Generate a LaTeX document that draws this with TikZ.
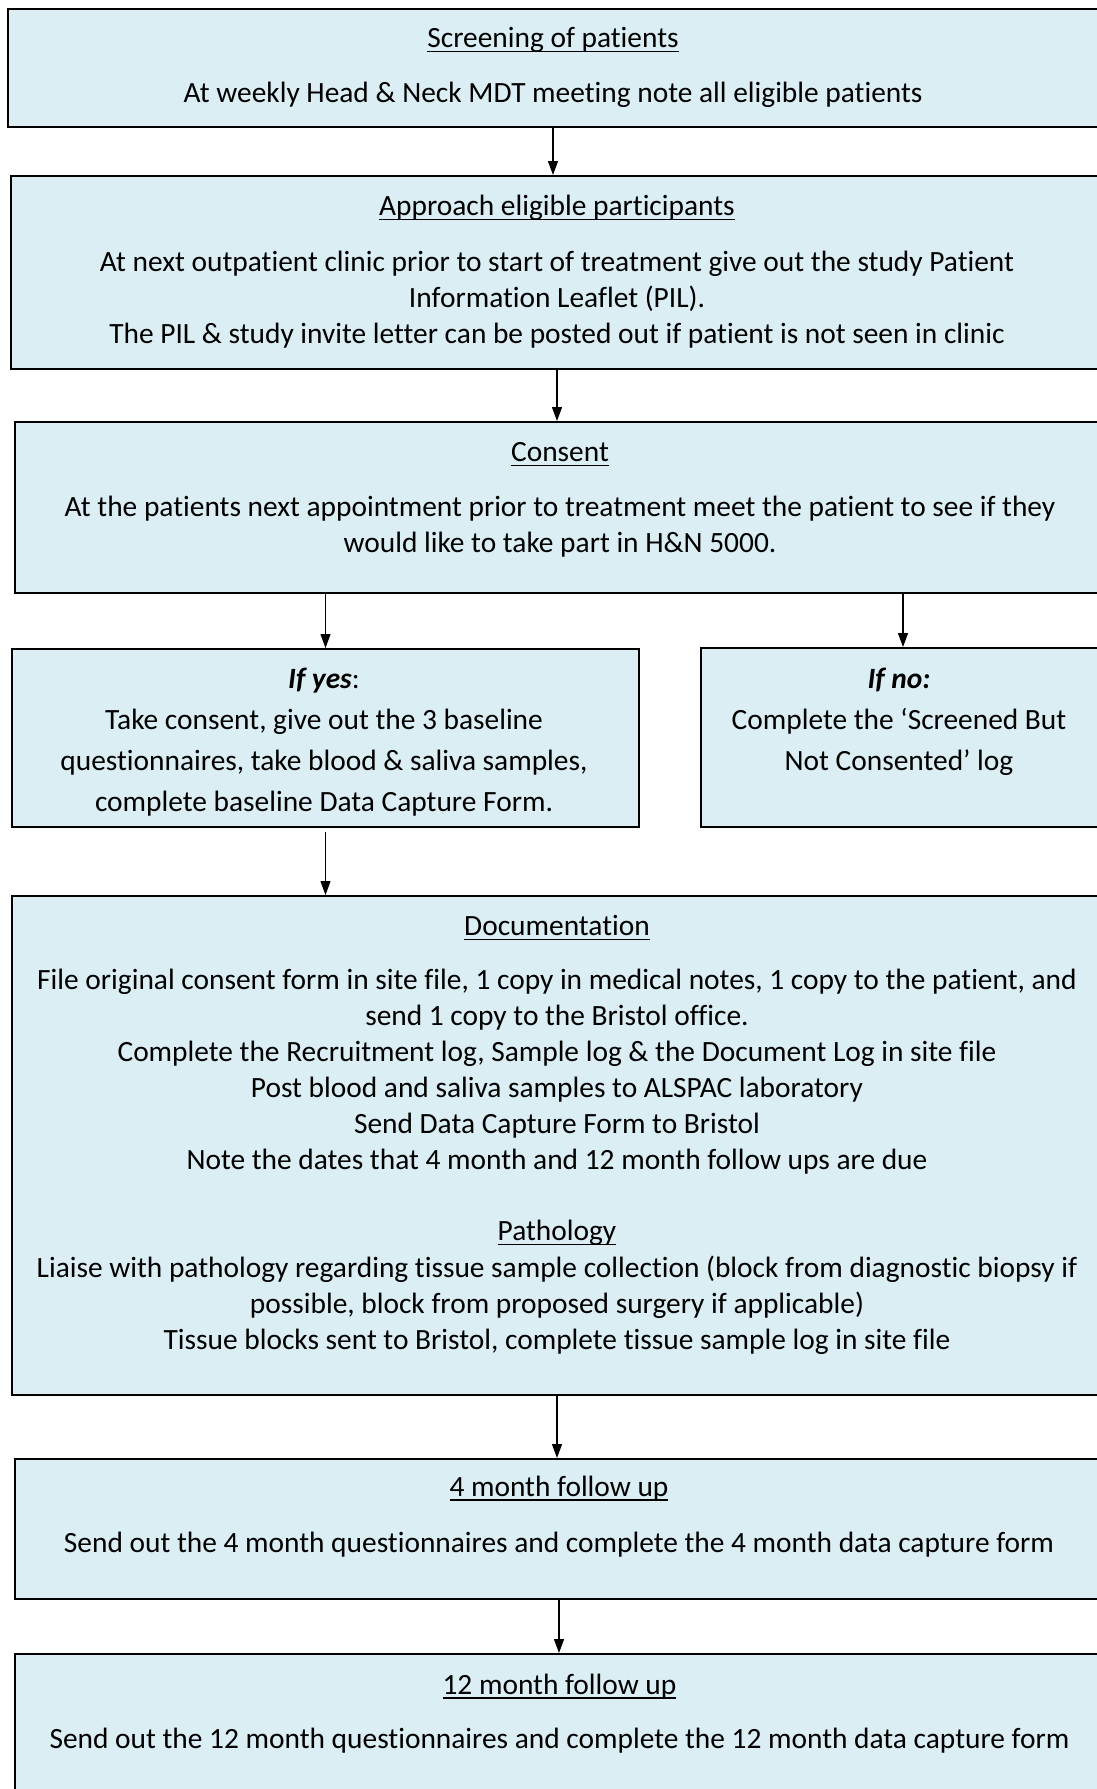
\documentclass[tikz,border=0pt]{standalone}
\usepackage{fontspec}
\setmainfont[Ligatures=NoCommon]{Carlito}
\usetikzlibrary{arrows.meta}
\definecolor{boxblue}{RGB}{218,238,243}
\newcommand\ulin[1]{\setbox0\hbox{#1}\rlap{\rule[-2.2pt]{\wd0}{0.6pt}}\box0}
\begin{document}
\begin{tikzpicture}[x=0.5pt,y=-0.5pt,
  box/.style={draw=black, line width=1pt, fill=boxblue, rectangle, inner sep=0pt, anchor=north west},
  txt/.style={align=center, font=\fontsize{14.7}{18}\selectfont, inner sep=0pt, yshift=-1.2pt},
  wtxt/.style={align=center, font=\fontsize{14.7}{20.5}\selectfont, inner sep=0pt, yshift=-1.2pt},
  arr/.style={-{Triangle[length=7pt,width=5pt]}, line width=0.6pt}]
\useasboundingbox (0,0) rectangle (1097,1789);
\clip (0,0) rectangle (1097,1789);
% boxes
\node[box, minimum width=549pt, minimum height=59pt] (b1) at (7,8) {};
\node[box, minimum width=547.5pt, minimum height=96.5pt] (b2) at (10,175) {};
\node[box, minimum width=546pt, minimum height=85.5pt] (b3) at (14,421) {};
\node[box, minimum width=313.5pt, minimum height=89pt] (yes) at (11,648) {};
\node[box, minimum width=202pt, minimum height=89.5pt] (no) at (700,647) {};
\node[box, minimum width=547pt, minimum height=249.5pt] (doc) at (11,895) {};
\node[box, minimum width=545.5pt, minimum height=70pt] (b4) at (14,1458) {};
\node[box, minimum width=545.5pt, minimum height=90pt] (b12) at (14,1653) {};
% texts
\node[txt] (t1h) at (553,38) {\ulin{Screening of patients}};
\node[txt] (t1b) at (553,92.5) {At weekly Head \& Neck MDT meeting note all eligible patients};
\node[txt] (t2h) at (557,205.5) {\ulin{Approach eligible participants}};
\node[txt] (t2b) at (557,297) {At next outpatient clinic prior to start of treatment give out the study Patient\\Information Leaflet (PIL).\\The PIL \& study invite letter can be posted out if patient is not seen in clinic};
\node[txt] (t3h) at (560,452) {\ulin{Consent}};
\node[txt] (t3b) at (560,524.5) {At the patients next appointment prior to treatment meet the patient to see if they\\would like to take part in H\&N 5000.};
\node[wtxt] (tyes) at (324,739.5) {\textbf{\textit{If yes}}:\\Take consent, give out the 3 baseline\\questionnaires, take blood \& saliva samples,\\complete baseline Data Capture Form.};
\node[wtxt] (tno) at (899,719) {\textbf{\textit{If no:}}\\Complete the ‘Screened But\\Not Consented’ log};
\node[txt] (tdh) at (557,925) {\ulin{Documentation}};
\node[txt] (tdb) at (557,1069) {File original consent form in site file, 1 copy in medical notes, 1 copy to the patient, and\\send 1 copy to the Bristol office.\\Complete the Recruitment log, Sample log \& the Document Log in site file\\Post blood and saliva samples to ALSPAC laboratory\\Send Data Capture Form to Bristol\\Note the dates that 4 month and 12 month follow ups are due};
\node[txt] (tph) at (557,1230.5) {\ulin{Pathology}};
\node[txt] (tpb) at (557,1303) {Liaise with pathology regarding tissue sample collection (block from diagnostic biopsy if\\possible, block from proposed surgery if applicable)\\Tissue blocks sent to Bristol, complete tissue sample log in site file};
\node[txt] (t4h) at (559,1486) {\ulin{4 month follow up}};
\node[txt] (t4b) at (559,1542) {Send out the 4 month questionnaires and complete the 4 month data capture form};
\node[txt] (t12h) at (559.5,1684) {\ulin{12 month follow up}};
\node[txt] (t12b) at (559.5,1738.5) {Send out the 12 month questionnaires and complete the 12 month data capture form};
% arrows
\draw[arr] (b1.south -| t1b.south) -- (b2.north -| t1b.south);
\draw[arr] (b2.south -| t2b.south) -- (b3.north -| t2b.south);
\draw[arr] (b3.south -| yes.north) -- (yes.north);
\draw[arr] (b3.south -| no.north) -- (no.north);
\draw[arr, shorten <=2pt] (yes.south) -- (doc.north -| yes.south);
\draw[arr] (doc.south -| tdb.south) -- (b4.north -| tdb.south);
\draw[arr] (b4.south -| t4h.south) -- (b12.north -| t4h.south);
\end{tikzpicture}
\end{document}
